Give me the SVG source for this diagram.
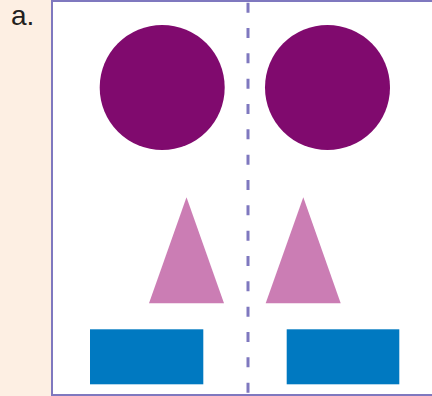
<svg xmlns="http://www.w3.org/2000/svg" width="432" height="396" viewBox="0 0 432 396">
  <style>
    .circ { fill: #800a6e; }
    .tri { fill: #cb7db4; }
    .rect { fill: #0079c1; }
    .lbl { font-family: "Liberation Sans", Arial, sans-serif; font-size: 28px; fill: #231f20; }
  </style>
  <rect x="0" y="0" width="432" height="396" fill="#ffffff"/>
  <rect x="0" y="0" width="52" height="396" fill="#fdefe3"/>
  <g id="frame" fill="none" stroke="#7f78bf" stroke-width="2">
    <path d="M432 1 H52 V395 H432"/>
  </g>
  <text class="lbl" x="11" y="25">a.</text>
  <g id="connectors">
    <line x1="248" y1="2.7" x2="248" y2="396" stroke="#7f78bf" stroke-width="3" stroke-dasharray="10 15.33"/>
  </g>
  <g id="circle-left"><circle class="circ" cx="162.2" cy="87.5" r="62.5"/></g>
  <g id="circle-right"><circle class="circ" cx="327.5" cy="87.5" r="62.5"/></g>
  <g id="triangle-left"><polygon class="tri" points="186.5,197.3 224,303.3 149,303.3"/></g>
  <g id="triangle-right"><polygon class="tri" points="303.3,197.3 340.7,303.3 265.7,303.3"/></g>
  <g id="rect-left"><rect class="rect" x="90" y="329.3" width="113.3" height="55"/></g>
  <g id="rect-right"><rect class="rect" x="286.7" y="329.3" width="112.6" height="55"/></g>
</svg>
